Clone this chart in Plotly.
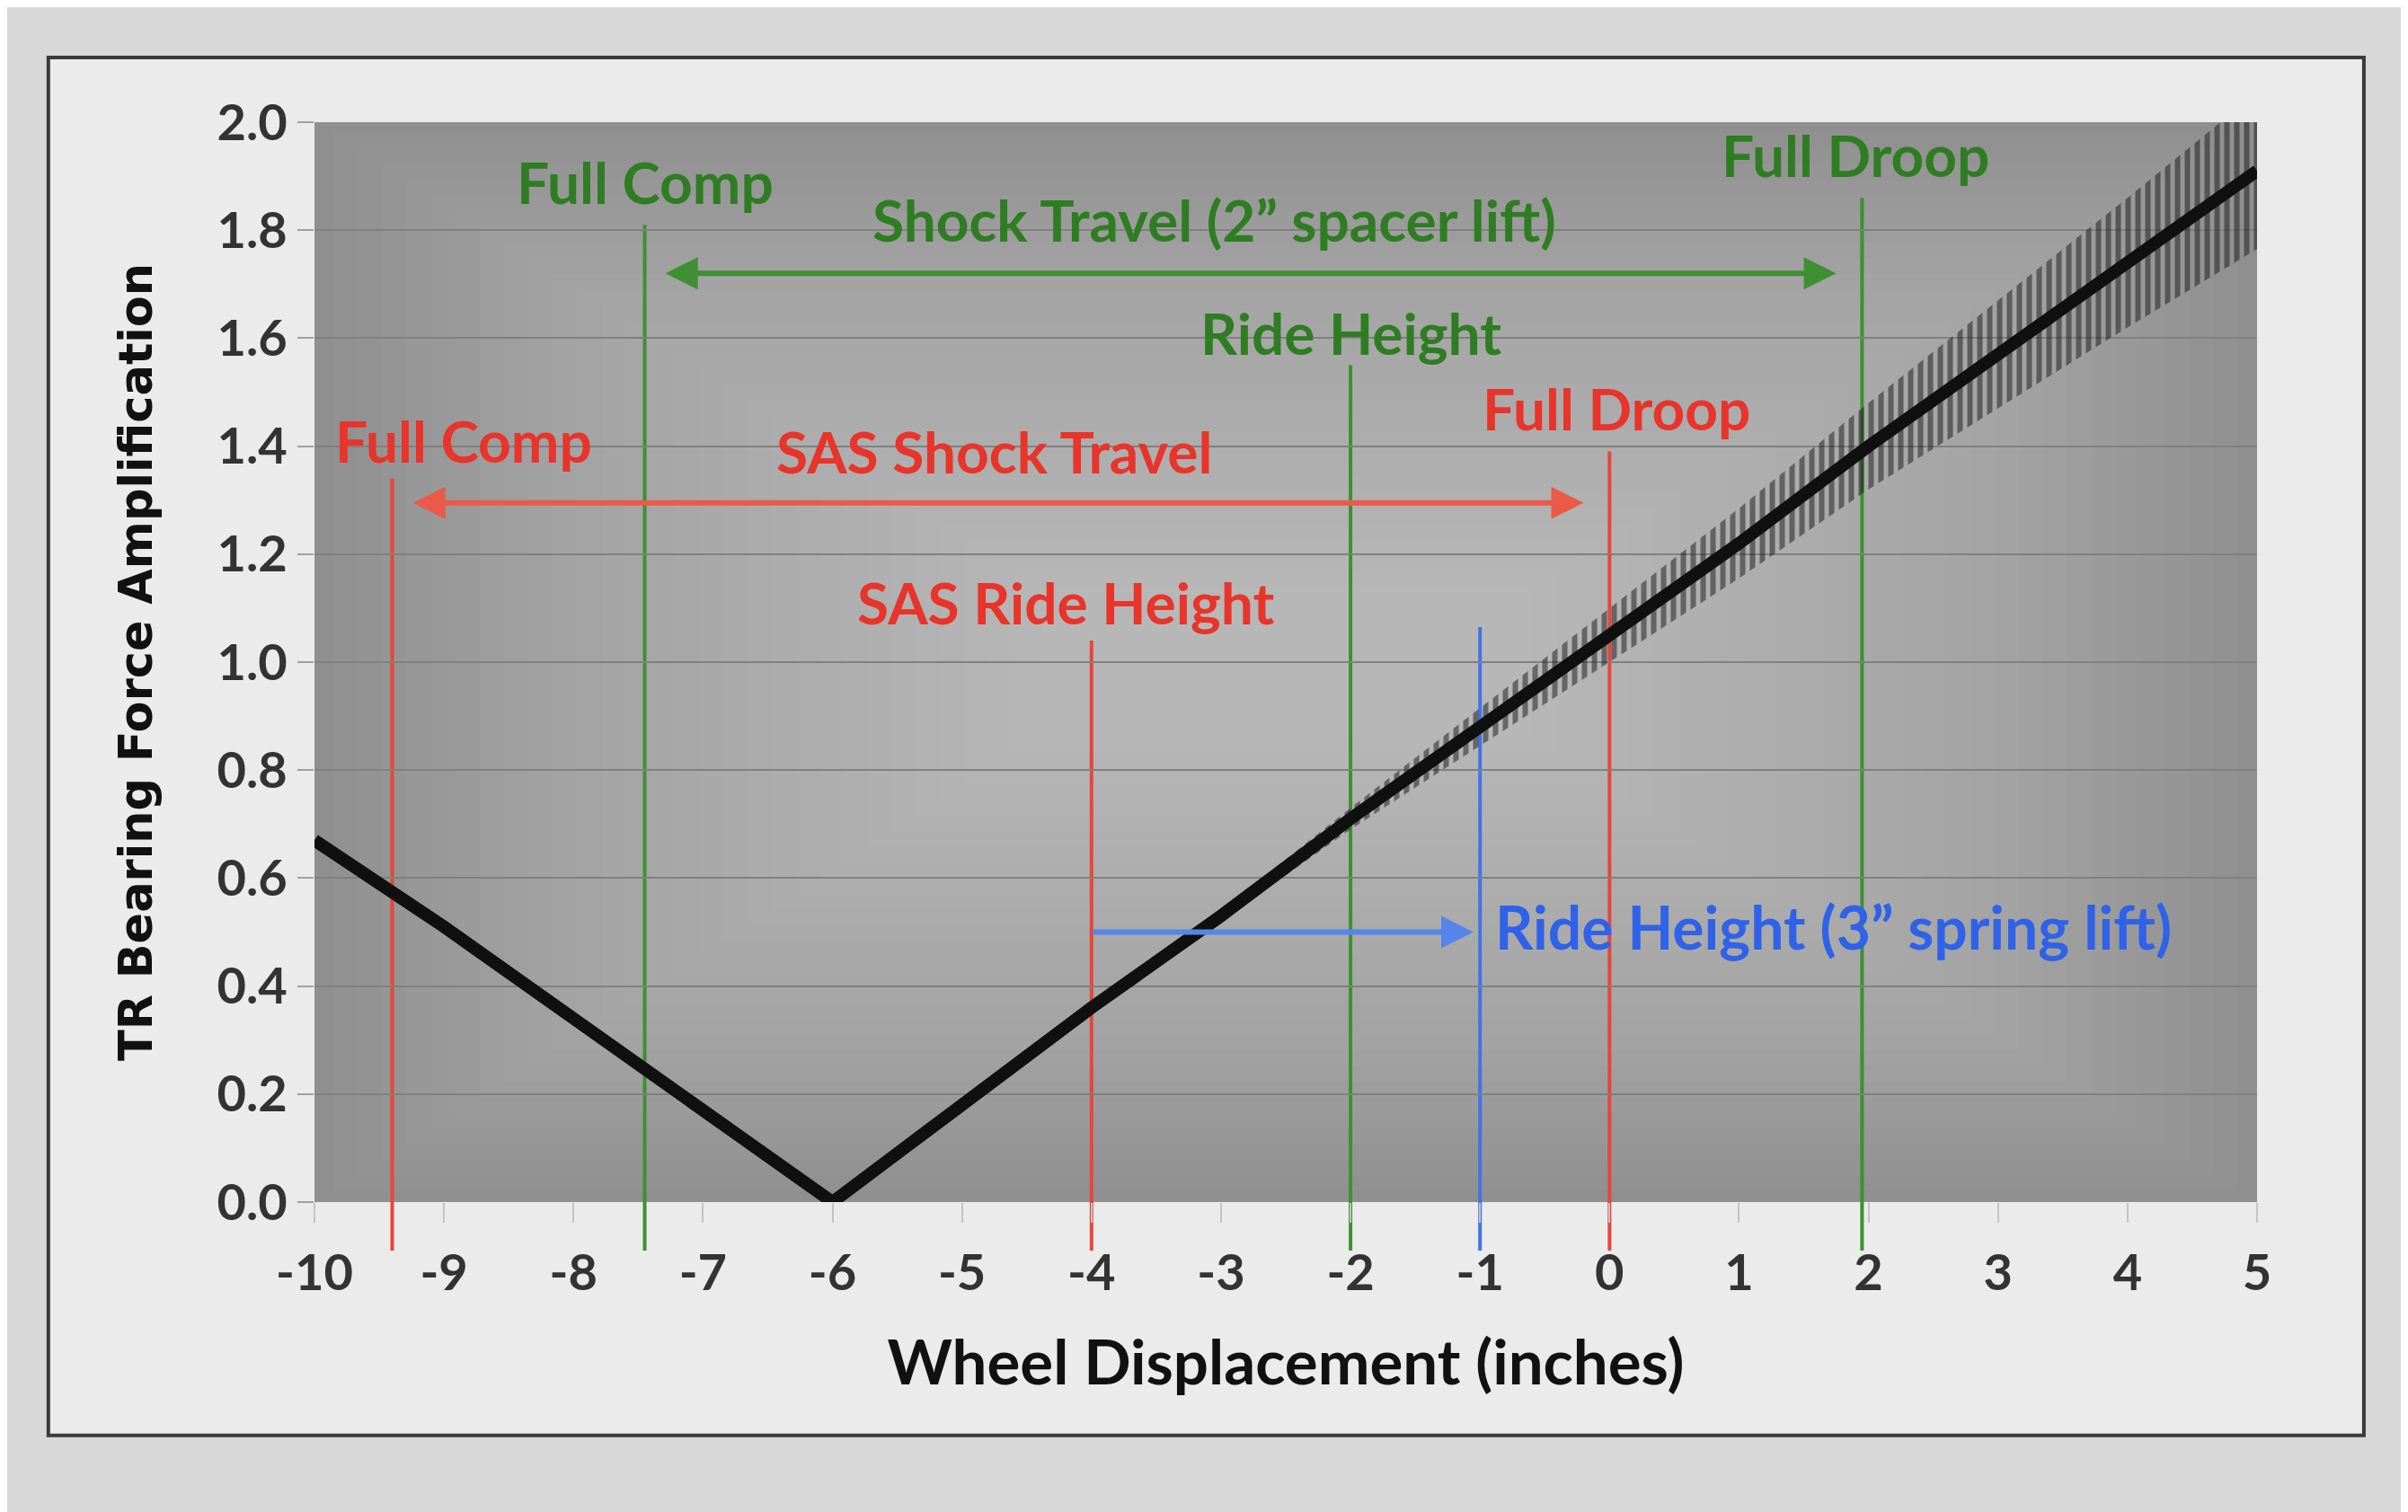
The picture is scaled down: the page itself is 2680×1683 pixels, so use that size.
import plotly.graph_objects as go

# TR bearing force amplification vs wheel displacement
disp_in = [-10, -9, -8, -7, -6, -5, -4, -3, -2, -1, 0, 1, 2, 3, 4, 5]
amplif = [0.67, 0.51, 0.34, 0.17, 0.0, 0.18, 0.36, 0.53, 0.71, 0.88, 1.05, 1.22, 1.40, 1.57, 1.74, 1.91]
tick_vals = [-10, -9, -8, -7, -6, -5, -4, -3, -2, -1, 0, 1, 2, 3, 4, 5]
tick_text = ['-10', '-9', '-8', '-7', '-6', '-5', '-4', '-3', '-2', '-1', '0', '1', '2', '3', '4', '5']

# half width of the hatched band along the rising branch
band_x = [-4, -3, -2, -1, 0, 1, 2, 3, 4, 5]
band_half = [0.0, 0.01, 0.02, 0.035, 0.05, 0.065, 0.08, 0.10, 0.12, 0.145]

# marker lines: x position, top of line (y), colour key
marker_x = [-9.4, -7.45, -4.0, -2.0, -1.0, 0.0, 1.95]
marker_top = [1.34, 1.81, 1.04, 1.55, 1.065, 1.39, 1.86]
marker_kind = ['red', 'green', 'red', 'green', 'blue', 'red', 'green']
line_bottom = -0.09

# labels: text, x, y, colour key
label_text = ['Full Comp', 'Shock Travel (2\u201d spacer lift)', 'Full Droop', 'Ride Height',
              'Full Droop', 'Full Comp', 'SAS Shock Travel', 'SAS Ride Height']
label_x = [-7.45, -3.05, 1.9, -2.0, 0.05, -8.85, -4.75, -4.2]
label_y = [1.89, 1.82, 1.94, 1.61, 1.47, 1.41, 1.39, 1.11]
label_kind = ['green', 'green', 'green', 'green', 'red', 'red', 'red', 'red']

# travel arrows: start x, end x, y, colour key, both ends?
arrow_x0 = [-7.3, -9.25, -4.0]
arrow_x1 = [1.75, -0.2, -1.05]
arrow_y = [1.72, 1.295, 0.50]
arrow_kind = ['green', 'red', 'blue']
arrow_both = [True, True, False]

line_col = {'red': '#e8453a', 'green': '#3f8f33', 'blue': '#3f74e6'}
arrow_col = {'red': '#ea5a48', 'green': '#3f8f33', 'blue': '#5585ea'}
text_col = {'red': '#e8342a', 'green': '#2f7d22', 'blue': '#2f62e8'}

center = dict(zip(disp_in, amplif))
band_lo = [center[x] - h for x, h in zip(band_x, band_half)]
band_hi = [center[x] + h for x, h in zip(band_x, band_half)]

fig = go.Figure()

fig.add_trace(go.Scatter(x=band_x, y=band_lo, mode='lines', line=dict(width=0),
                         showlegend=False, hoverinfo='skip'))
fig.add_trace(go.Scatter(x=band_x, y=band_hi, mode='lines', line=dict(width=0),
                         fill='tonexty', fillcolor='rgba(0,0,0,0)',
                         fillpattern=dict(shape='|', fgcolor='#161616', bgcolor='rgba(0,0,0,0)',
                                          size=11, solidity=0.55),
                         showlegend=False, hoverinfo='skip'))
fig.add_trace(go.Scatter(x=disp_in, y=amplif, mode='lines',
                         line=dict(color='#101010', width=14), showlegend=False))

shapes = []
# photo frame of the slide
shapes.append(dict(type='rect', xref='paper', yref='paper', x0=-0.137, x1=1.055, y0=-0.216, y1=1.06,
                   fillcolor='#ebebeb', line=dict(color='#3a3a3a', width=4), layer='below'))
# plot area grey with a soft vignette
shapes.append(dict(type='rect', xref='paper', yref='paper', x0=0, x1=1, y0=0, y1=1,
                   fillcolor='#8f8f8f', line=dict(width=0), layer='below'))
for i in range(30):
    shapes.append(dict(type='rect', xref='paper', yref='paper',
                       x0=0.01 + i * 0.0125, x1=0.99 - i * 0.0125, y0=0.01 + i * 0.0145, y1=0.99 - i * 0.0145,
                       fillcolor='#d0d0d0', opacity=0.045, line=dict(width=0), layer='below'))
for x, top, k in zip(marker_x, marker_top, marker_kind):
    shapes.append(dict(type='line', xref='x', yref='paper', x0=x, x1=x,
                       y0=line_bottom / 2.0, y1=top / 2.0,
                       line=dict(color=line_col[k], width=4), layer='below'))

annotations = []
for t, x, y, k in zip(label_text, label_x, label_y, label_kind):
    annotations.append(dict(x=x, y=y, xref='x', yref='y', text=t, showarrow=False,
                            font=dict(family='Lato', size=64, color=text_col[k], weight='bold')))
annotations.append(dict(x=-0.9, y=0.51, xref='x', yref='y', xanchor='left',
                        text='Ride Height (3\u201d spring lift)', showarrow=False,
                        font=dict(family='Lato', size=66, color=text_col['blue'], weight='bold')))
for x0, x1, y, k, both in zip(arrow_x0, arrow_x1, arrow_y, arrow_kind, arrow_both):
    annotations.append(dict(x=x1, y=y, ax=x0, ay=y, xref='x', yref='y', axref='x', ayref='y',
                            text='', showarrow=True, arrowhead=2, arrowsize=1.2, arrowwidth=6,
                            arrowside='end+start' if both else 'end',
                            startarrowhead=2, startarrowsize=1.2,
                            arrowcolor=arrow_col[k]))

fig.update_layout(
    width=2680, height=1683,
    margin=dict(l=342, r=176, t=128, b=353),
    paper_bgcolor='#d8d8d8',
    plot_bgcolor='rgba(0,0,0,0)',
    shapes=shapes,
    annotations=annotations,
    xaxis=dict(range=[-10, 5], tickvals=tick_vals, ticktext=tick_text, showgrid=False, zeroline=False,
               ticks='outside', ticklen=22, tickwidth=2, tickcolor='#c4c4c4',
               ticklabelstandoff=8,
               tickfont=dict(family='Lato', size=56, color='#333333', weight='bold'),
               title=dict(text='Wheel Displacement (inches)', standoff=45,
                          font=dict(family='Lato', size=69, color='#111111', weight='bold'))),
    yaxis=dict(range=[0, 2.0], dtick=0.2, tickformat='.1f', showgrid=True,
               gridcolor='#808080', gridwidth=2, zeroline=False,
               ticks='outside', ticklen=18, tickwidth=2, tickcolor='#a0a0a0',
               tickfont=dict(family='Lato', size=56, color='#333333', weight='bold'),
               title=dict(text='TR Bearing Force Amplification', standoff=55,
                          font=dict(family='DejaVu Sans', size=51, color='#111111', weight='bold'))),
)

fig.write_html('out.html')
